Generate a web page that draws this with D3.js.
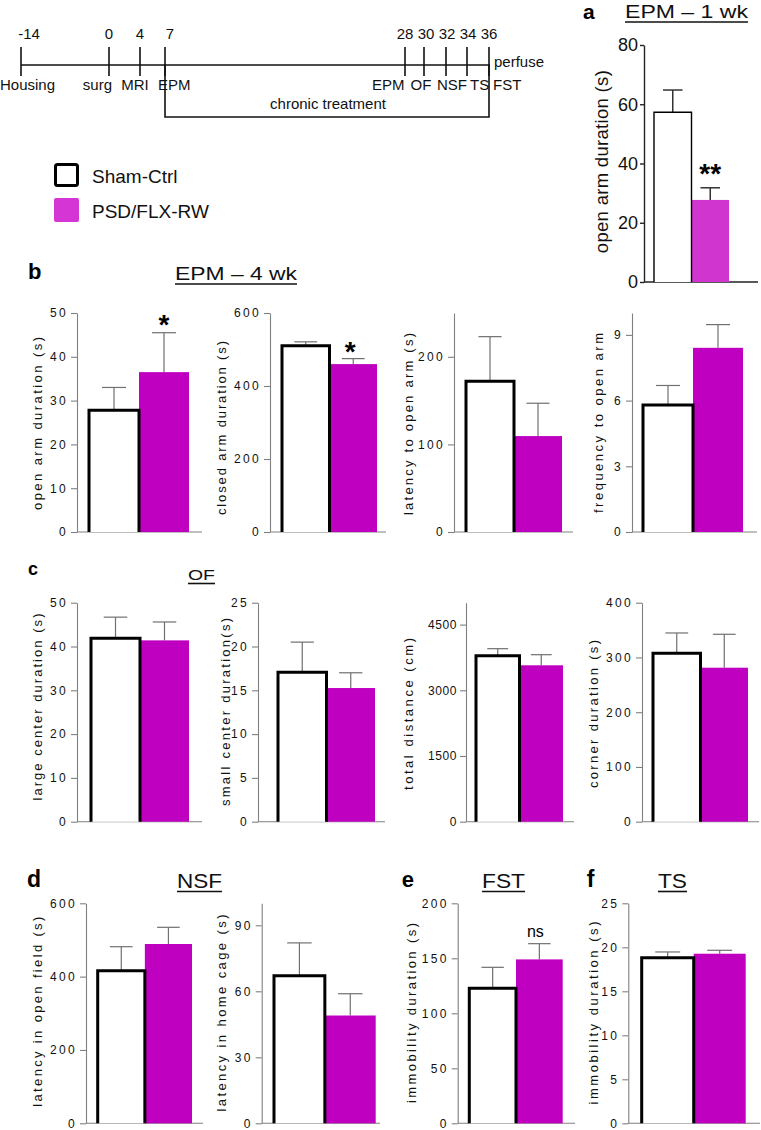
<!DOCTYPE html>
<html><head><meta charset="utf-8">
<script src="https://cdn.jsdelivr.net/npm/d3@7"></script>
<style>
body{margin:0;background:#fff}
svg{display:block;font-family:"Liberation Sans",Arial,sans-serif}
</style>
</head><body>
<svg id="chart" width="761" height="1130"></svg>
<script>
// ---------------- DATA ----------------
const groups = ["Sham-Ctrl", "PSD/FLX-RW"];

// timeline
const tlDays = [-14, 0, 4, 7, 28, 30, 32, 34, 36];
const tlTopLabels = ["-14", "0", "4", "7", "28", "30", "32", "34", "36"];
const tlBottomLabels = ["Housing", "surg", "MRI", "EPM", "EPM", "OF", "NSF", "TS", "FST"];
const tlEndLabel = "perfuse";
const treatmentLabel = "chronic treatment";
const treatmentDays = [7, 36];

// panel values (mean, SEM) for [Sham-Ctrl, PSD/FLX-RW]
const epm1wkOpenArm = [57.3, 27.7];      const epm1wkOpenArmSem = [7.5, 4.1];
const epm4wkOpenArm = [27.8, 36.5];      const epm4wkOpenArmSem = [5.2, 9.0];
const epm4wkClosedArm = [510, 460];      const epm4wkClosedArmSem = [11, 15];
const epm4wkLatency = [172, 109.5];      const epm4wkLatencySem = [51, 37.5];
const epm4wkFrequency = [5.8, 8.41];     const epm4wkFrequencySem = [0.89, 1.06];
const ofLargeCenter = [41.9, 41.4];      const ofLargeCenterSem = [4.8, 4.2];
const ofSmallCenter = [17.05, 15.26];    const ofSmallCenterSem = [3.45, 1.74];
const ofTotalDistance = [3790, 3571];    const ofTotalDistanceSem = [160, 242];
const ofCorner = [307.6, 281.3];         const ofCornerSem = [37.1, 61];
const nsfOpenField = [416, 489];         const nsfOpenFieldSem = [65.6, 45.5];
const nsfHomeCage = [67.1, 49.0];        const nsfHomeCageSem = [14.9, 9.9];
const fstImmobility = [122.7, 149];      const fstImmobilitySem = [19.1, 14.3];
const tsImmobility = [18.82, 19.27];     const tsImmobilitySem = [0.65, 0.39];

// y-axis ticks
const ticksA = [0, 20, 40, 60, 80];
const ticks50 = [0, 10, 20, 30, 40, 50];
const ticks600 = [0, 200, 400, 600];
const ticksLatency = [0, 100, 200];
const ticksFreq = [0, 3, 6, 9];
const ticks25 = [0, 5, 10, 15, 20, 25];
const ticksDistance = [0, 1500, 3000, 4500];
const ticks400 = [0, 100, 200, 300, 400];
const ticksHome = [0, 30, 60, 90];
const ticks200 = [0, 50, 100, 150, 200];

// panel titles
const panelLetters = ["a", "b", "c", "d", "e", "f"];
const panelTitles = ["EPM – 1 wk", "EPM – 4 wk", "OF", "NSF", "FST", "TS"];

// ---------------- LAYOUT ----------------
const svg = d3.select("#chart");
const FONT = '"Liberation Sans", Arial, sans-serif';
const magentaLight = "#d035cf";
const magenta = "#c000c0";

// timeline
const tlX = d3.scaleLinear().domain(tlDays).range([21, 109, 140, 165, 405, 424, 446, 467, 489]);
const tlLineY = 65;
const tlTopDx = [8, 0, 0, 5, 0, 2, 1, 1, 0];
const tlBottom = [["start", -21], ["end", 3], ["middle", -5], ["start", -7], ["end", -0.5],
                  ["middle", -3], ["start", -9], ["start", 3], ["start", 4]];
const tl = svg.append("g").attr("font-size", 15).attr("fill", "#111");
tl.append("line").attr("x1", tlX(-14)).attr("x2", tlX(36) + 1).attr("y1", tlLineY).attr("y2", tlLineY)
  .attr("stroke", "#111").attr("stroke-width", 1.6);
tlDays.forEach((d, i) => {
  tl.append("text").attr("x", tlX(d) + tlTopDx[i]).attr("y", 39).attr("text-anchor", "middle").text(tlTopLabels[i]);
  tl.append("text").attr("x", tlX(d) + tlBottom[i][1]).attr("y", 90)
    .attr("text-anchor", tlBottom[i][0]).text(tlBottomLabels[i]);
});
tlDays.forEach(d => {
  tl.append("line").attr("x1", tlX(d)).attr("x2", tlX(d)).attr("y1", 47).attr("y2", 76)
    .attr("stroke", "#111").attr("stroke-width", 1.6);
});
tl.append("text").attr("x", 494).attr("y", 67).text(tlEndLabel);
tl.append("path")
  .attr("d", `M${tlX(treatmentDays[0])},${tlLineY}V117H${tlX(treatmentDays[1])}V${tlLineY}`)
  .attr("fill", "none").attr("stroke", "#111").attr("stroke-width", 1.6);
tl.append("text").attr("x", (tlX(treatmentDays[0]) + tlX(treatmentDays[1])) / 2 + 1).attr("y", 109)
  .attr("text-anchor", "middle").text(treatmentLabel);

// legend
const lg = svg.append("g").attr("font-size", 19).attr("fill", "#111");
lg.append("rect").attr("x", 55.5).attr("y", 164.5).attr("width", 22).attr("height", 21).attr("rx", 2)
  .attr("fill", "#fff").attr("stroke", "#000").attr("stroke-width", 3);
lg.append("rect").attr("x", 54).attr("y", 198).attr("width", 25).attr("height", 24).attr("rx", 2)
  .attr("fill", "#d535d5");
lg.append("text").attr("x", 92).attr("y", 183).text(groups[0]);
lg.append("text").attr("x", 92).attr("y", 218).text(groups[1]);

// titles
const titleLayout = [
  {lx: 583, ly: 19, lfs: 21, tx: 625, ty: 17.5, tlen: 123, tfs: 18.5, uy: 22},
  {lx: 28, ly: 279, lfs: 22, tx: 175, ty: 280, tlen: 122, tfs: 18, uy: 284},
  {lx: 28, ly: 575, lfs: 18, tx: 188, ty: 580, tlen: 27, tfs: 15.5, uy: 583.5},
  {lx: 27, ly: 886.7, lfs: 23, tx: 177, ty: 888, tlen: 45, tfs: 21, uy: 891.5},
  {lx: 401.7, ly: 886.7, lfs: 22, tx: 482, ty: 888, tlen: 43, tfs: 21, uy: 891.5},
  {lx: 586.7, ly: 886.7, lfs: 23, tx: 658, ty: 888, tlen: 29, tfs: 21, uy: 891.5}
];
panelLetters.forEach((L, i) => {
  const t = titleLayout[i];
  svg.append("text").attr("x", t.lx).attr("y", t.ly).attr("font-size", t.lfs).attr("font-weight", "bold")
    .attr("fill", "#000").text(L);
  svg.append("text").attr("x", t.tx).attr("y", t.ty).attr("font-size", t.tfs)
    .attr("textLength", t.tlen).attr("lengthAdjust", "spacingAndGlyphs").attr("fill", "#111").text(panelTitles[i]);
  svg.append("line").attr("x1", t.tx).attr("x2", t.tx + t.tlen).attr("y1", t.uy).attr("y2", t.uy)
    .attr("stroke", "#111").attr("stroke-width", 1.6);
});

// bar panels
const panels = [
  {mean: epm1wkOpenArm, sem: epm1wkOpenArmSem, max: 80, ticks: ticksA, label: "open arm duration (s)",
   big: true, ax: 644, top: 45, bottom: 282, xEnd: 758, b0: 654, b1: 729, lx: 602, ly: 161.7, llen: 183,
   annot: "**", adx: 0, ady: -5},
  {mean: epm4wkOpenArm, sem: epm4wkOpenArmSem, max: 50, ticks: ticks50, label: "open arm duration (s)",
   ax: 77, top: 313, bottom: 532, xEnd: 202, b0: 89, b1: 189, lx: 37, ly: 423.5, llen: 173, annot: "*", adx: 0, ady: 1.5},
  {mean: epm4wkClosedArm, sem: epm4wkClosedArmSem, max: 600, ticks: ticks600, label: "closed arm duration (s)",
   ax: 270, top: 313, bottom: 532, xEnd: 386, b0: 282, b1: 377, lx: 221, ly: 428, llen: 174, annot: "*", adx: -3, ady: 2.5},
  {mean: epm4wkLatency, sem: epm4wkLatencySem, max: 250, ticks: ticksLatency, label: "latency to open arm (s)",
   ax: 454, top: 313, bottom: 532, xEnd: 573, b0: 466, b1: 562, lx: 408, ly: 424, llen: 182},
  {mean: epm4wkFrequency, sem: epm4wkFrequencySem, max: 10, ticks: ticksFreq, label: "frequency to open arm",
   ax: 632, top: 313, bottom: 532, xEnd: 757, b0: 643, b1: 743, lx: 598, ly: 423, llen: 180},
  {mean: ofLargeCenter, sem: ofLargeCenterSem, max: 50, ticks: ticks50, label: "large center duration (s)",
   ax: 77, top: 602.7, bottom: 821.7, xEnd: 202, b0: 91, b1: 189, lx: 37, ly: 707, llen: 187},
  {mean: ofSmallCenter, sem: ofSmallCenterSem, max: 25, ticks: ticks25, label: "small center duration(s)",
   ax: 258, top: 602.7, bottom: 821.7, xEnd: 385, b0: 278, b1: 375, lx: 225, ly: 712, llen: 188},
  {mean: ofTotalDistance, sem: ofTotalDistanceSem, max: 5000, ticks: ticksDistance, label: "total distance  (cm)",
   ax: 466, top: 602.7, bottom: 821.7, xEnd: 574, b0: 476, b1: 563, lx: 408, ly: 714, llen: 152, tls: 0.6},
  {mean: ofCorner, sem: ofCornerSem, max: 400, ticks: ticks400, label: "corner duration (s)",
   ax: 642, top: 602.7, bottom: 821.7, xEnd: 759, b0: 653, b1: 748, lx: 593, ly: 714, llen: 148},
  {mean: nsfOpenField, sem: nsfOpenFieldSem, max: 600, ticks: ticks600, label: "latency in open field (s)",
   ax: 86, top: 903.3, bottom: 1123.3, xEnd: 203, b0: 97.7, b1: 192, lx: 37, ly: 1011.7, llen: 190},
  {mean: nsfHomeCage, sem: nsfHomeCageSem, max: 100, ticks: ticksHome, label: "latency in home cage (s)",
   ax: 261.7, top: 903.3, bottom: 1123.3, xEnd: 380, b0: 274, b1: 375.7, lx: 221, ly: 1013, llen: 197},
  {mean: fstImmobility, sem: fstImmobilitySem, max: 200, ticks: ticks200, label: "immobility duration (s)",
   ax: 457.7, top: 903.3, bottom: 1123.3, xEnd: 575, b0: 469.3, b1: 562.7, lx: 411.7, ly: 1013, llen: 180,
   annot: "ns", adx: -4, ady: -7},
  {mean: tsImmobility, sem: tsImmobilitySem, max: 25, ticks: ticks25, label: "immobility duration (s)",
   ax: 628.3, top: 903.3, bottom: 1123.3, xEnd: 760, b0: 641.7, b1: 745.7, lx: 593, ly: 1013, llen: 183}
];

panels.forEach(p => {
  const big = !!p.big;
  const y = d3.scaleLinear().domain([0, p.max]).range([p.bottom, p.top]);
  const x = d3.scaleBand().domain(groups).range([p.b0, p.b1]).padding(0);
  const axisColor = big ? "#222" : "#808080";
  const g = svg.append("g");

  // y axis
  const ax = g.append("g").attr("transform", `translate(${p.ax},0)`)
    .call(d3.axisLeft(y).tickValues(p.ticks).tickFormat(d3.format("d"))
      .tickSize(big ? 4 : 6).tickSizeOuter(0).tickPadding(big ? 2 : 3));
  ax.attr("font-family", FONT).attr("font-size", big ? 18 : 12);
  ax.select(".domain").attr("stroke", axisColor).attr("stroke-width", big ? 1.4 : 1.1);
  ax.selectAll(".tick line").attr("stroke", axisColor).attr("stroke-width", big ? 1.4 : 1.1);
  ax.selectAll(".tick text").attr("fill", "#111")
    .style("letter-spacing", big ? "0px" : ((p.tls !== undefined ? p.tls : 2.3) + "px"));

  // x axis line
  g.append("line").attr("x1", p.ax).attr("x2", p.xEnd).attr("y1", y(0)).attr("y2", y(0))
    .attr("stroke", axisColor).attr("stroke-width", big ? 1.4 : 1.1);

  // error bars
  groups.forEach((grp, i) => {
    const cx = x(grp) + x.bandwidth() / 2;
    const cw = x.bandwidth() * (big ? 0.52 : 0.48);
    const yt = y(p.mean[i] + p.sem[i]);
    g.append("line").attr("x1", cx).attr("x2", cx).attr("y1", y(p.mean[i])).attr("y2", yt)
      .attr("stroke", big ? "#333" : "#707070").attr("stroke-width", big ? 1.5 : 1.2);
    g.append("line").attr("x1", cx - cw / 2).attr("x2", cx + cw / 2).attr("y1", yt).attr("y2", yt)
      .attr("stroke", big ? "#333" : "#707070").attr("stroke-width", big ? 1.5 : 1.2);
  });

  // magenta bar
  g.append("rect").attr("x", x(groups[1])).attr("width", x.bandwidth())
    .attr("y", y(p.mean[1])).attr("height", y(0) - y(p.mean[1]))
    .attr("fill", big ? magentaLight : magenta);
  // white bar (open outline)
  const wp = d3.path();
  const wx0 = x(groups[0]), wx1 = x(groups[0]) + x.bandwidth();
  wp.moveTo(wx0, y(0)); wp.lineTo(wx0, y(p.mean[0])); wp.lineTo(wx1, y(p.mean[0])); wp.lineTo(wx1, y(0));
  g.append("path").attr("d", wp.toString()).attr("fill", "#fff")
    .attr("stroke", "#000").attr("stroke-width", big ? 1.4 : 3);

  // y label
  g.append("text").attr("transform", `translate(${p.lx},${p.ly}) rotate(-90)`)
    .attr("text-anchor", "middle").attr("dy", "0.35em")
    .attr("font-size", big ? 18.5 : 13).attr("fill", "#111")
    .attr("textLength", p.llen).attr("lengthAdjust", "spacing")
    .text(p.label);

  // annotation
  if (p.annot) {
    const cx = x(groups[1]) + x.bandwidth() / 2 + p.adx;
    const yt = y(p.mean[1] + p.sem[1]) + p.ady;
    g.append("text").attr("x", cx).attr("y", yt).attr("text-anchor", "middle")
      .attr("font-size", p.annot === "ns" ? 16 : 28)
      .attr("font-weight", p.annot === "ns" ? "normal" : "bold")
      .attr("fill", "#000").text(p.annot);
  }
});
</script>
</body></html>
